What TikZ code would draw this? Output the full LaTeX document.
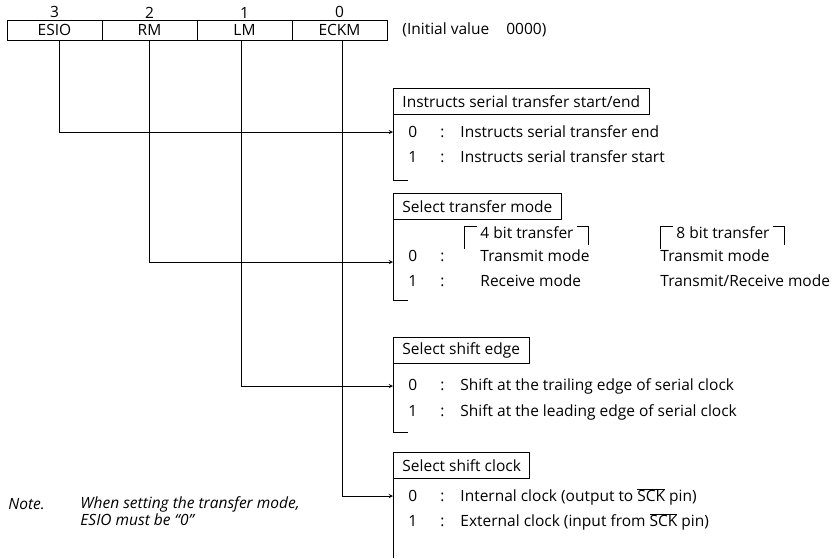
\documentclass[tikz,border=0pt]{standalone}
\usepackage{fontspec}
\setmainfont{Open Sans}
\usetikzlibrary{positioning}
\begin{document}
\begin{tikzpicture}[>=stealth, x=1pt, y=-1pt, line width=0.9pt,
  font=\fontsize{15.5}{18}\selectfont,
  cell/.style={draw, minimum width=95pt, minimum height=20pt, inner sep=0pt},
  bitno/.style={above=0pt of #1, inner sep=1pt},
  titlebox/.style={draw, anchor=north west, inner xsep=9pt, minimum height=26pt},
  row/.style={anchor=west, inner sep=0pt}]
\useasboundingbox (0,0) rectangle (838,558);
% register
\node[cell] (esio) at (54.5,30) {ESIO};
\node[cell] (rm) at (149.5,30) {RM};
\node[cell] (lm) at (244.5,30) {LM};
\node[cell] (eckm) at (339.5,30) {ECKM};
\node[bitno=esio] {3};
\node[bitno=rm] {2};
\node[bitno=lm] {1};
\node[bitno=eckm] {0};
\node[row] (init) at (402,30) {(Initial value\hspace{1.1em}0000)};
% ESIO
\node[titlebox] (t1) at (393,88) {Instructs serial transfer start/end};
\node[row] (r10) at (408,132) {\makebox[32pt][l]{0}\makebox[20pt][l]{:}Instructs serial transfer end};
\node[row] (r11) at (408,157) {\makebox[32pt][l]{1}\makebox[20pt][l]{:}Instructs serial transfer start};
\draw (t1.south west) |- (408,180);
% RM
\node[titlebox] (t2) at (393,193) {Select transfer mode};
\node[row] (h4) at (480,233) {4 bit transfer};
\node[row] (h8) at (676,233) {8 bit transfer};
\node[row] (r20) at (408,256) {\makebox[32pt][l]{0}\makebox[40pt][l]{:}Transmit mode};
\node[row] (r21) at (408,281) {\makebox[32pt][l]{1}\makebox[40pt][l]{:}Receive mode};
\node[row] (m80) at (660,256) {Transmit mode};
\node[row] (m81) at (660,281) {Transmit/Receive mode};
\draw ([xshift=-16pt,yshift=-22pt]h4.north west) |- ([xshift=-3pt]h4.north west);
\draw ([xshift=3pt]h4.north east) -| ([xshift=14pt,yshift=-18pt]h4.north east);
\draw ([xshift=-16pt,yshift=-22pt]h8.north west) |- ([xshift=-3pt]h8.north west);
\draw ([xshift=3pt]h8.north east) -| ([xshift=14pt,yshift=-18pt]h8.north east);
\draw (t2.south west) |- (408,300);
% LM
\node[titlebox] (t3) at (393,337) {Select shift edge};
\node[row] (r30) at (408,386) {\makebox[32pt][l]{0}\makebox[20pt][l]{:}Shift at the trailing edge of serial clock};
\node[row] (r31) at (408,412) {\makebox[32pt][l]{1}\makebox[20pt][l]{:}Shift at the leading edge of serial clock};
\draw (t3.south west) |- (408,432);
% ECKM
\node[titlebox] (t4) at (393,452) {Select shift clock};
\node[row] (r40) at (408,497) {\makebox[32pt][l]{0}\makebox[20pt][l]{:}Internal clock (output to \(\overline{\mbox{SCK}}\) pin)};
\node[row] (r41) at (408,522) {\makebox[32pt][l]{1}\makebox[20pt][l]{:}External clock (input from \(\overline{\mbox{SCK}}\) pin)};
\draw (t4.south west) -- (393,558);
% bit lines
\coordinate (in1) at (393,132);
\coordinate (in2) at (393,262);
\coordinate (in3) at (393,386);
\coordinate (in4) at (393,496);
\draw[->] ([xshift=5pt]esio.south) |- (in1);
\draw[->] (rm.south) |- (in2);
\draw[->] ([xshift=-3pt]lm.south) |- (in3);
\draw[->] ([xshift=3pt]eckm.south) |- (in4);
% note
\node[row, font=\fontsize{15.5}{18}\itshape] (note) at (8,504) {Note.};
\node[anchor=north west, inner sep=0pt, align=left, font=\fontsize{15.5}{17}\itshape] (notetxt) at (80,496) {When setting the transfer mode,\\ESIO must be ``0''};
\end{tikzpicture}
\end{document}
